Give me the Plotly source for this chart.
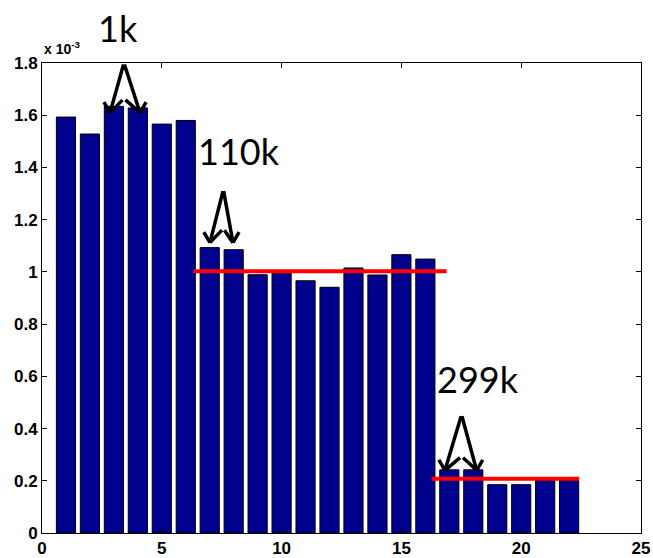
import plotly.graph_objects as go

# bar values (units of 1e-3)
bar_x = list(range(1, 23))
bar_vals = [1.593, 1.528, 1.634, 1.628, 1.566, 1.580, 1.093, 1.085, 0.989, 0.995,
            0.966, 0.941, 1.015, 0.988, 1.066, 1.049, 0.242, 0.242, 0.185, 0.185,
            0.201, 0.201]

# red level lines: (x_start, x_end, level)
level_x0 = [6.34, 16.26]
level_x1 = [16.89, 22.42]
level_y = [1.002, 0.208]

# labels and arrows
label_text = ["1k", "110k", "299k"]
label_x = [3.17, 8.22, 18.18]
label_y = [1.935, 1.462, 0.591]
arrow_apex_x = [3.42, 7.57, 17.51]
arrow_apex_y = [1.80, 1.315, 0.453]
arrow_left_x = [2.84, 7.01, 16.82]
arrow_right_x = [4.09, 7.97, 18.14]
arrow_head_y = [1.610, 1.112, 0.240]

xticks = [0, 5, 10, 15, 20, 25]
yticks = [0, 0.2, 0.4, 0.6, 0.8, 1.0, 1.2, 1.4, 1.6, 1.8]
ytick_text = ["0", "0.2", "0.4", "0.6", "0.8", "1", "1.2", "1.4", "1.6", "1.8"]

X_RANGE = [0, 25]
Y_RANGE = [0, 1.8]
W, H = 653, 558
ML, MR, MT, MB = 42, 12, 63, 25
px_per_x = (W - ML - MR) / (X_RANGE[1] - X_RANGE[0])
px_per_y = (H - MT - MB) / (Y_RANGE[1] - Y_RANGE[0])

fig = go.Figure()
fig.add_trace(go.Bar(
    x=bar_x, y=bar_vals, width=0.8,
    marker=dict(color="#00008F", line=dict(color="#000000", width=1)),
))

shapes = []
for x0, x1, yv in zip(level_x0, level_x1, level_y):
    shapes.append(dict(type="line", xref="x", yref="y", x0=x0, x1=x1, y0=yv, y1=yv,
                       line=dict(color="#FF0000", width=4)))

annotations = []
for t, tx, ty in zip(label_text, label_x, label_y):
    annotations.append(dict(text=t, x=tx, y=ty / Y_RANGE[1], xref="x", yref="paper", showarrow=False,
                            font=dict(family="Lato, Open Sans, sans-serif", size=36, color="black"),
                            xanchor="center", yanchor="middle"))

ARROW_W = 3.5
NOTCH_UP = 14      # px the inner notch sits above the tips
WING_DX, WING_DY = 7, 12  # outer wing offset in px


def seg(x, y, ax, ay, data_tail):
    d = dict(x=x, y=y, ax=ax, ay=ay, xref="x", yref="y", text="", showarrow=True,
             arrowhead=0, arrowwidth=ARROW_W, arrowcolor="black")
    if data_tail:
        d.update(axref="x", ayref="y")
    return d


for ax_, ay_, lx, rx, hy in zip(arrow_apex_x, arrow_apex_y, arrow_left_x, arrow_right_x, arrow_head_y):
    for hx, side in ((lx, -1), (rx, 1)):
        # shaft from apex down to tip
        annotations.append(seg(hx, hy, ax_, ay_, True))
        # outer wing
        annotations.append(seg(hx, hy, side * WING_DX, -WING_DY, False))
        # inner wing to the notch under the apex
        annotations.append(seg(hx, hy, (ax_ - hx) * px_per_x, -NOTCH_UP, False))

annotations.append(dict(text="<b>x 10<sup>-3</sup></b>", x=0, y=1.0, xref="paper", yref="paper",
                        xanchor="left", yanchor="bottom", showarrow=False, yshift=4,
                        font=dict(family="Arial, Liberation Sans, sans-serif", size=14, color="black")))

axis_common = dict(showline=True, linecolor="black", linewidth=1, mirror="ticks",
                   ticks="inside", ticklen=5, tickcolor="black", showgrid=False,
                   zeroline=False, automargin=False,
                   tickfont=dict(family="Arial, Liberation Sans, sans-serif", size=17, color="black", weight="bold"))

fig.update_layout(
    width=W, height=H,
    margin=dict(l=ML, r=MR, t=MT, b=MB, autoexpand=False),
    paper_bgcolor="white", plot_bgcolor="white",
    showlegend=False,
    xaxis=dict(range=X_RANGE, tickvals=xticks, **axis_common),
    yaxis=dict(range=Y_RANGE, tickvals=yticks, ticktext=ytick_text, **axis_common),
    shapes=shapes, annotations=annotations,
)

fig.write_html("out.html", config={"displayModeBar": False},
               post_script="document.body.style.margin='0';document.body.style.overflow='hidden';")
